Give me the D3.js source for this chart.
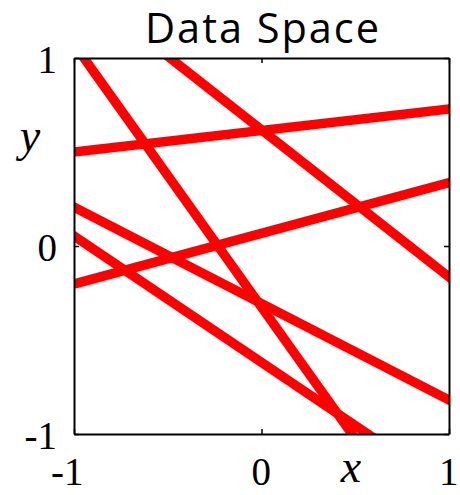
<!DOCTYPE html>
<html>
<head>
<meta charset="utf-8">
<script src="https://cdn.jsdelivr.net/npm/d3@7"></script>
<style>
  html, body { margin: 0; padding: 0; background: #fff; }
  svg { display: block; }
</style>
</head>
<body>
<svg id="chart" width="460" height="495"></svg>
<script>
// ---- data ----
const titleText = "Data Space";
const xTicks = [-1, 0, 1];
const yTicks = [-1, 0, 1];
const xTickLabels = ["-1", "0", "1"];
const yTickLabels = ["-1", "0", "1"];
// lines y = slope * x + intercept
const slopes     = [-1.399, -0.672, -0.513, 0.2695, 0.1145, -0.783];
const intercepts = [-0.325, -0.619, -0.306, 0.0675, 0.6145, 0.618];

// ---- layout ----
const svg = d3.select("#chart");
const L = 74, R = 449, T = 58, B = 434;
const x = d3.scaleLinear().domain([-1, 1]).range([L, R]);
const y = d3.scaleLinear().domain([-1, 1]).range([B, T]);

svg.append("defs").append("clipPath").attr("id", "clip")
  .append("rect").attr("x", L).attr("y", T).attr("width", R - L).attr("height", B - T);

// lines
const lineGen = d3.line().x(d => x(d[0])).y(d => y(d[1]));
const lines = slopes.map((m, i) => [[-1.2, m * -1.2 + intercepts[i]], [1.2, m * 1.2 + intercepts[i]]]);
svg.append("g").attr("clip-path", "url(#clip)")
  .selectAll("path").data(lines).join("path")
  .attr("d", lineGen)
  .attr("fill", "none")
  .attr("stroke", "#ff0000")
  .attr("stroke-width", 9.5);

// axes (ticks inward)
const mkAxis = (g, axis) => {
  g.call(axis);
  g.selectAll("text").remove();
  g.select(".domain").attr("stroke", "#000").attr("stroke-width", 2);
  g.selectAll(".tick line").attr("stroke", "#000").attr("stroke-width", 1.5);
};
svg.append("g").attr("transform", `translate(0,${B})`)
  .call(g => mkAxis(g, d3.axisBottom(x).tickValues(xTicks).tickSizeInner(-5).tickSizeOuter(0)));
svg.append("g").attr("transform", `translate(0,${T})`)
  .call(g => mkAxis(g, d3.axisTop(x).tickValues(xTicks).tickSizeInner(-5).tickSizeOuter(0)));
svg.append("g").attr("transform", `translate(${L},0)`)
  .call(g => mkAxis(g, d3.axisLeft(y).tickValues(yTicks).tickSizeInner(-5).tickSizeOuter(0)));
svg.append("g").attr("transform", `translate(${R},0)`)
  .call(g => mkAxis(g, d3.axisRight(y).tickValues(yTicks).tickSizeInner(-5).tickSizeOuter(0)));

// tick labels
const tickFont = "'Liberation Serif', 'Times New Roman', serif";
svg.append("g").selectAll("text").data(xTicks).join("text")
  .attr("x", d => x(d) + 9.5)
  .attr("y", B + 51)
  .attr("text-anchor", "end")
  .attr("font-family", tickFont)
  .attr("font-size", 39)
  .text((d, i) => xTickLabels[i]);
svg.append("g").selectAll("text").data(yTicks).join("text")
  .attr("x", 57)
  .attr("y", d => y(d) + 15)
  .attr("text-anchor", "end")
  .attr("font-family", tickFont)
  .attr("font-size", 39)
  .text((d, i) => yTickLabels[i]);

// axis labels
svg.append("text").attr("x", 351).attr("y", 482)
  .attr("text-anchor", "middle")
  .attr("font-family", tickFont).attr("font-style", "italic").attr("font-size", 46)
  .text("x");
svg.append("text").attr("x", 30).attr("y", 151)
  .attr("text-anchor", "middle")
  .attr("font-family", tickFont).attr("font-style", "italic").attr("font-size", 46)
  .text("y");

// title
svg.append("text").attr("x", 262).attr("y", 43)
  .attr("text-anchor", "middle")
  .attr("font-family", "'Open Sans', Lato, sans-serif")
  .attr("font-size", 41.5)
  .attr("textLength", 234)
  .attr("lengthAdjust", "spacing")
  .text(titleText);
</script>
</body>
</html>
